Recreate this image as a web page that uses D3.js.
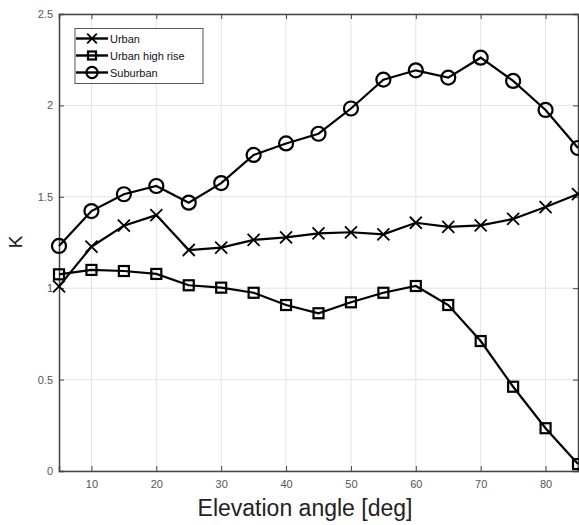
<!DOCTYPE html>
<html>
<head>
<meta charset="utf-8">
<script src="https://cdn.jsdelivr.net/npm/d3@7"></script>
<style>
  body { margin: 0; background: #fff; }
  svg { display: block; font-family: "Liberation Sans", Arial, sans-serif; }
</style>
</head>
<body>
<div id="plot"></div>
<script>
// elevation angles (deg)
const angles = [5, 10, 15, 20, 25, 30, 35, 40, 45, 50, 55, 60, 65, 70, 75, 80, 85];

const urban = [1.01, 1.227, 1.342, 1.40, 1.209, 1.222, 1.264, 1.278, 1.30, 1.306, 1.295, 1.358, 1.336, 1.344, 1.379, 1.444, 1.515];
const urbanHighRise = [1.076, 1.10, 1.094, 1.078, 1.016, 1.003, 0.975, 0.908, 0.863, 0.923, 0.975, 1.012, 0.908, 0.711, 0.461, 0.234, 0.038];
const suburban = [1.231, 1.422, 1.514, 1.559, 1.468, 1.575, 1.729, 1.792, 1.845, 1.983, 2.141, 2.192, 2.152, 2.261, 2.134, 1.975, 1.767];

const xTicks = [10, 20, 30, 40, 50, 60, 70, 80];
const yTicks = [0, 0.5, 1, 1.5, 2, 2.5];

const seriesNames = ['Urban', 'Urban high rise', 'Suburban'];
const seriesData = [urban, urbanHighRise, suburban];
const markers = ['x', 'square', 'circle'];

const W = 579, H = 525;
const margin = { top: 14, right: 1, bottom: 54, left: 59 };
const width = W - margin.left - margin.right;
const height = H - margin.top - margin.bottom;

const svg = d3.select('#plot').append('svg')
    .attr('width', W)
    .attr('height', H);

const g = svg.append('g')
    .attr('transform', 'translate(' + margin.left + ',' + margin.top + ')');

const x = d3.scaleLinear().domain([5, 85]).range([0, width]);
const y = d3.scaleLinear().domain([0, 2.5]).range([height, 0]);

// grid
g.append('g').selectAll('line').data(xTicks).enter().append('line')
    .attr('x1', d => x(d)).attr('x2', d => x(d))
    .attr('y1', 0).attr('y2', height)
    .attr('stroke', '#e3e3e3').attr('stroke-width', 1);
g.append('g').selectAll('line').data(yTicks).enter().append('line')
    .attr('x1', 0).attr('x2', width)
    .attr('y1', d => y(d)).attr('y2', d => y(d))
    .attr('stroke', '#e3e3e3').attr('stroke-width', 1);

// axes (ticks inward)
const axisColor = '#444';
g.append('g')
    .attr('transform', 'translate(0,' + height + ')')
    .call(d3.axisBottom(x).tickValues(xTicks).tickSize(-5).tickPadding(9));
g.append('g')
    .call(d3.axisLeft(y).tickValues(yTicks).tickSize(-5).tickPadding(6).tickFormat(d3.format('')));
g.append('g')
    .call(d3.axisTop(x).tickValues(xTicks).tickSize(-5).tickFormat(''));
g.append('g')
    .attr('transform', 'translate(' + width + ',0)')
    .call(d3.axisRight(y).tickValues(yTicks).tickSize(-5).tickFormat(''));

g.selectAll('.domain').attr('stroke', axisColor).attr('stroke-width', 1.5);
g.selectAll('.tick line').attr('stroke', axisColor);
g.selectAll('.tick text')
    .attr('fill', '#555')
    .style('font-size', '11px');

// lines + markers
const line = d3.line()
    .x((d, i) => x(angles[i]))
    .y(d => y(d));

function drawMarker(sel, type, cx, cy, sc) {
    if (type === 'x') {
        const s = 6 * sc;
        sel.append('path')
            .attr('d', 'M' + (cx - s) + ',' + (cy - s) + 'L' + (cx + s) + ',' + (cy + s) +
                       'M' + (cx - s) + ',' + (cy + s) + 'L' + (cx + s) + ',' + (cy - s))
            .attr('stroke', '#000').attr('stroke-width', 1.8).attr('fill', 'none');
    } else if (type === 'square') {
        const s = 5 * sc;
        sel.append('rect')
            .attr('x', cx - s).attr('y', cy - s)
            .attr('width', 2 * s).attr('height', 2 * s)
            .attr('stroke', '#000').attr('stroke-width', 2.2).attr('fill', 'none');
    } else {
        sel.append('circle')
            .attr('cx', cx).attr('cy', cy).attr('r', 7 * sc)
            .attr('stroke', '#000').attr('stroke-width', 2.2).attr('fill', 'none');
    }
}

seriesData.forEach(function (vals, k) {
    g.append('path')
        .datum(vals)
        .attr('d', line)
        .attr('fill', 'none')
        .attr('stroke', '#000')
        .attr('stroke-width', 2.2);
    const mg = g.append('g');
    vals.forEach(function (v, i) {
        drawMarker(mg, markers[k], x(angles[i]), y(v), 1);
    });
});

// legend
const legend = svg.append('g');
legend.append('rect')
    .attr('x', 75).attr('y', 28.5)
    .attr('width', 128).attr('height', 55)
    .attr('fill', '#fff').attr('stroke', '#555').attr('stroke-width', 1);
seriesNames.forEach(function (name, k) {
    const ly = 38.5 + k * 17;
    legend.append('line')
        .attr('x1', 76).attr('x2', 108)
        .attr('y1', ly).attr('y2', ly)
        .attr('stroke', '#000').attr('stroke-width', 2.4);
    drawMarker(legend, markers[k], 92, ly, 0.8);
    legend.append('text')
        .attr('x', 110).attr('y', ly + 4)
        .attr('fill', '#111')
        .style('font-size', '11px')
        .text(name);
});

// axis labels
svg.append('text')
    .attr('x', 305)
    .attr('y', 516)
    .attr('text-anchor', 'middle')
    .attr('fill', '#222')
    .style('font-size', '23px')
    .text('Elevation angle [deg]');

svg.append('text')
    .attr('transform', 'translate(22,242) rotate(-90)')
    .attr('text-anchor', 'middle')
    .attr('fill', '#222')
    .style('font-size', '19px')
    .text('K');
</script>
</body>
</html>
